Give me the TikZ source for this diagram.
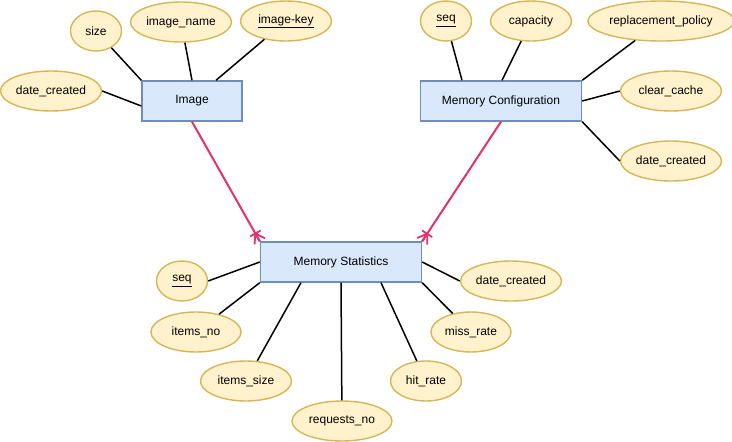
\documentclass[tikz,border=0pt]{standalone}
\usepackage{fontspec}
\setmainfont{Liberation Sans}
\usetikzlibrary{shapes.geometric,decorations.markings}
\definecolor{boxfill}{HTML}{DAE8FC}
\definecolor{boxdraw}{HTML}{6C8EBF}
\definecolor{attrfill}{HTML}{FFF2CC}
\definecolor{attrdraw}{HTML}{D6B656}
\definecolor{relcol}{HTML}{E5306B}
\tikzset{
  entity/.style={draw=boxdraw,fill=boxfill,line width=1.4pt,minimum height=40pt,inner sep=0pt,font=\fontsize{12}{14}\selectfont},
  attr/.style={ellipse,draw=attrdraw,fill=attrfill,line width=1.4pt,minimum height=40pt,inner sep=0pt,font=\fontsize{12}{14}\selectfont},
  link/.style={draw=black,line width=1.5pt},
  crowfoot/.style={draw=relcol,line width=2pt,
    postaction={decorate,decoration={markings,mark=at position 1 with {
      \draw[relcol,line width=1.8pt] (-9,0) -- (0,6) (-9,0) -- (0,-6) (-9,0) -- (0,0) (-9,-6) -- (-9,6);}}}}
}
\begin{document}
\begin{tikzpicture}[x=1pt,y=-1pt]
\useasboundingbox (0,0) rectangle (732,442);
% entities
\node[entity,minimum width=100pt] (img) at (192,101) {Image};
\node[entity,minimum width=161pt] (cfg) at (501,101) {Memory Configuration};
\node[entity,minimum width=161pt] (st) at (341,262) {Memory Statistics};
% image attrs
\node[attr,minimum width=51pt] (size) at (96,31) {size};
\node[attr,minimum width=101pt] (iname) at (181,22) {image\_name};
\node[attr,minimum width=91pt] (ikey) at (286,21) {\underline{image-key}};
\node[attr,minimum width=101pt] (idate) at (51,91) {date\_created};
% config attrs
\node[attr,minimum width=51pt] (cseq) at (446,21) {\underline{seq}};
\node[attr,minimum width=81pt] (ccap) at (531,21) {capacity};
\node[attr,minimum width=141pt] (crep) at (661,21) {replacement\_policy};
\node[attr,minimum width=101pt] (cclr) at (671,91) {clear\_cache};
\node[attr,minimum width=101pt] (cdate) at (671,161) {date\_created};
% stats attrs
\node[attr,minimum width=51pt] (sseq) at (182,281) {\underline{seq}};
\node[attr,minimum width=90pt] (sino) at (196,332) {items\_no};
\node[attr,minimum width=91pt] (sisz) at (246,381) {items\_size};
\node[attr,minimum width=100pt] (sreq) at (342,421) {requests\_no};
\node[attr,minimum width=71pt] (shit) at (426,381) {hit\_rate};
\node[attr,minimum width=80pt] (smiss) at (471,332) {miss\_rate};
\node[attr,minimum width=101pt] (sdate) at (511,281) {date\_created};
% image links
\draw[link] (size) -- (img.north west);
\draw[link] (iname) -- (img.north);
\draw[link] (ikey) -- ([xshift=24pt]img.north);
\draw[link] (idate.east) -- ([yshift=-5pt]img.west);
% config links
\draw[link] (cseq) -- ([xshift=-39pt]cfg.north);
\draw[link] (ccap) -- ([xshift=1pt]cfg.north);
\draw[link] (crep) -- (cfg.north east);
\draw[link] (cclr.west) -- (cfg.east);
\draw[link] (cdate.west) -- (cfg.south east);
% stats links
\draw[link] (sseq.east) -- (st.west);
\draw[link] (sino) -- (st.south west);
\draw[link] (sisz) -- ([xshift=-40pt]st.south);
\draw[link] (sreq) -- (st.south);
\draw[link] (shit) -- ([xshift=40pt]st.south);
\draw[link] (smiss) -- (st.south east);
\draw[link] (sdate.west) -- (st.east);
% relationships
\draw[crowfoot] (img.south) -- (st.north west);
\draw[crowfoot] (cfg.south) -- (st.north east);
\end{tikzpicture}
\end{document}
